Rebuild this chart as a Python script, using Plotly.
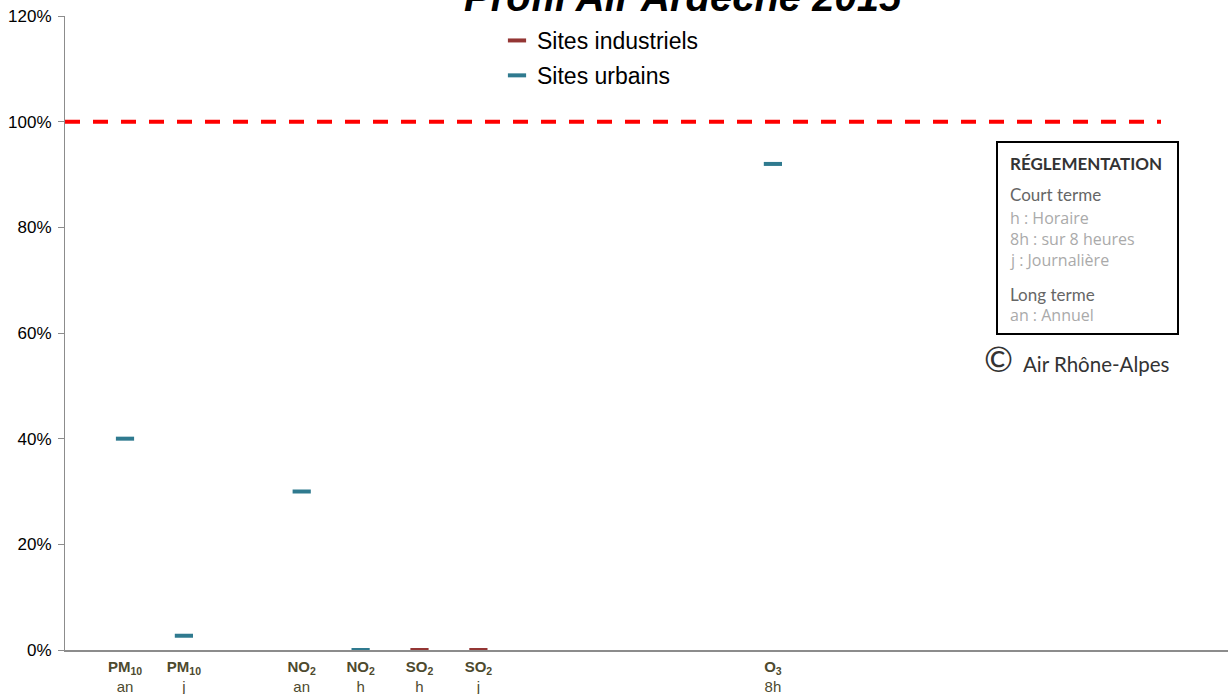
import plotly.graph_objects as go

# ---- data ----
categories = ["PM<sub>10</sub>|an", "PM<sub>10</sub>|j", "NO<sub>2</sub>|an", "NO<sub>2</sub>|h",
              "SO<sub>2</sub>|h", "SO<sub>2</sub>|j", "O<sub>3</sub>|8h"]
cat_positions = [0, 1, 3, 4, 5, 6, 11]
urban_values = [40, 2.7, 30, 0, None, None, 92]
industrial_values = [None, None, None, None, 0, 0, None]
limit_value = 100
y_ticks = [0, 20, 40, 60, 80, 100, 120]
y_ticklabels = ["0%", "20%", "40%", "60%", "80%", "100%", "120%"]

W, H = 1228, 694
L, R, T, B = 65, 0, 16, 44
plot_w = W - L - R
plot_h = H - T - B
px0, step = 125, 58.9
x_lo = (L - px0) / step
x_hi = (W - R - px0) / step
x_red_end = (1161 - px0) / step

def px_x(p):  # page pixel -> paper x
    return (p - L) / plot_w

def px_y(p):  # page pixel -> paper y
    return (H - B - p) / plot_h

ticktext = []
for c in categories:
    a, b = c.split("|")
    ticktext.append(f"<b>{a}</b><br>{b}")

fig = go.Figure()

fig.add_trace(go.Scatter(
    x=[x_lo, x_red_end], y=[limit_value, limit_value], mode="lines",
    line=dict(color="#FF0000", width=4, dash="15px,13px"),
    showlegend=False, hoverinfo="skip"))

fig.add_trace(go.Scatter(
    x=cat_positions, y=industrial_values, mode="markers", name="Sites industriels",
    legendgroup="ind",
    marker=dict(symbol="line-ew", size=13, line=dict(color="#943634", width=4)),
    cliponaxis=False))

fig.add_trace(go.Scatter(
    x=cat_positions, y=urban_values, mode="markers", name="Sites urbains",
    legendgroup="urb",
    marker=dict(symbol="line-ew", size=13, line=dict(color="#2F7A8F", width=4)),
    cliponaxis=False))

fig.update_layout(
    width=W, height=H,
    margin=dict(l=L, r=R, t=T, b=B, autoexpand=False),
    paper_bgcolor="white", plot_bgcolor="white",
    font=dict(family="Liberation Sans, Arial, sans-serif", color="#000"),
    legend=dict(x=px_x(497), y=px_y(19), xanchor="left", yanchor="top",
                font=dict(size=23, color="#000"), bgcolor="rgba(0,0,0,0)",
                itemwidth=30, traceorder="grouped", tracegroupgap=2),
    xaxis=dict(range=[x_lo, x_hi], tickvals=cat_positions, ticktext=ticktext,
               showgrid=False, zeroline=False, showline=True, linecolor="#8c8c8c",
               linewidth=2, ticks="", tickfont=dict(size=15, color="#4d4a2e"),
               ticklabelstandoff=2),
    yaxis=dict(range=[0, 120], tickvals=y_ticks, ticktext=y_ticklabels, showgrid=False,
               zeroline=False, showline=True, linecolor="#8c8c8c", linewidth=1,
               ticks="outside", ticklen=6, tickcolor="#8c8c8c",
               ticklabelstandoff=3, ticklabeloverflow="allow",
               tickfont=dict(size=17, color="#000")),
)

# title (cropped at top as in reference)
fig.add_annotation(text="<b><i>Profil Air Ardèche 2015</i></b>", xref="paper", yref="paper",
                   x=px_x(683), y=px_y(21), xanchor="center", yanchor="bottom",
                   showarrow=False, font=dict(size=40, color="#000"))

# regulation box
fig.add_shape(type="rect", xref="paper", yref="paper",
              x0=px_x(997), x1=px_x(1178), y0=px_y(334), y1=px_y(142),
              line=dict(color="#000", width=2), fillcolor="white", layer="above")

box_lines = [
    ("<b>RÉGLEMENTATION</b>", 163, 17, "#333", "Lato"),
    ("Court terme", 194, 17, "#666", "Lato"),
    ("h : Horaire", 218, 16, "#aaa", "Open Sans"),
    ("8h : sur 8 heures", 239, 16, "#aaa", "Open Sans"),
    ("j : Journalière", 260, 16, "#aaa", "Open Sans"),
    ("Long terme", 294, 17, "#666", "Lato"),
    ("an : Annuel", 315, 16, "#aaa", "Open Sans"),
]
for txt, yy, sz, col, fam in box_lines:
    fig.add_annotation(text=txt, xref="paper", yref="paper", x=px_x(1008), y=px_y(yy),
                       xanchor="left", yanchor="middle", showarrow=False,
                       font=dict(family=fam, size=sz, color=col))

fig.add_annotation(text="<span style='font-size:35px'>©</span>&nbsp; Air Rhône-Alpes",
                   xref="paper", yref="paper", x=px_x(982), y=px_y(358),
                   xanchor="left", yanchor="middle", showarrow=False,
                   font=dict(family="Lato, Open Sans, sans-serif", size=20.5, color="#333"))

fig.write_html("out.html", config={"displayModeBar": False},
               post_script="document.body.style.margin='0px';")
